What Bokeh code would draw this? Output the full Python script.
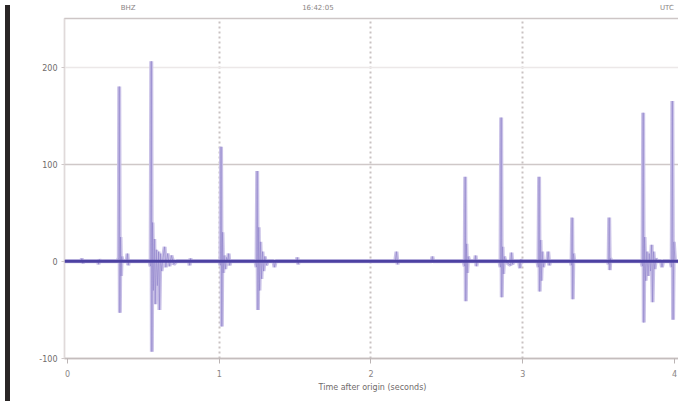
from bokeh.plotting import figure
from bokeh.models import Range1d, LinearAxis, FixedTicker, Span, Grid, Div, ColumnDataSource
from bokeh.layouts import row
from bokeh.embed import file_html
from bokeh.resources import INLINE

# ---- data ----
wave_t = [
    -0.02, 0.09, 0.095, 0.10, 0.105, 0.20, 0.205, 0.21, 0.215,
    0.330, 0.338, 0.341, 0.345, 0.349, 0.353, 0.357, 0.362,
    0.390, 0.395, 0.400, 0.405,
    0.540, 0.548, 0.552, 0.556, 0.560, 0.566, 0.572, 0.578, 0.585, 0.592, 0.600,
    0.606, 0.612, 0.620, 0.630, 0.640, 0.648, 0.660, 0.672, 0.685, 0.700, 0.720,
    0.800, 0.805, 0.810, 0.815,
    1.000, 1.008, 1.012, 1.017, 1.021, 1.026, 1.032, 1.040, 1.048, 1.056, 1.062, 1.068, 1.075,
    1.238, 1.246, 1.250, 1.255, 1.260, 1.265, 1.271, 1.278, 1.285, 1.292, 1.300, 1.310, 1.320,
    1.358, 1.364, 1.372,
    1.510, 1.515, 1.520, 1.525, 2.160, 2.168, 2.175, 2.180, 2.400, 2.405, 2.410,
    2.610, 2.618, 2.621, 2.625, 2.629, 2.634, 2.640, 2.648, 2.685, 2.690, 2.695, 2.700,
    2.846, 2.854, 2.858, 2.862, 2.867, 2.872, 2.878, 2.886, 2.920, 2.926, 2.932, 2.940,
    2.976, 2.982, 2.988, 2.995,
    3.096, 3.104, 3.108, 3.112, 3.117, 3.122, 3.128, 3.135, 3.142, 3.162, 3.168, 3.175, 3.182,
    3.316, 3.322, 3.326, 3.330, 3.334, 3.340,
    3.560, 3.566, 3.570, 3.574, 3.578, 3.584,
    3.782, 3.790, 3.794, 3.798, 3.803, 3.810, 3.818, 3.826, 3.834, 3.842, 3.850, 3.856,
    3.862, 3.870, 3.878, 3.885, 3.912, 3.918, 3.925,
    3.975, 3.982, 3.986, 3.991, 3.996, 4.004, 4.040,
]
wave_amp = [
    0, 0, 3, -2, 0, 0, -3, 2, 0,
    0, 4, 180, -53, 25, -15, 5, 0,
    0, 8, -4, 0,
    0, -5, 206, -93, 40, -30, 23, -44, 12, -25, 10,
    -50, 8, -10, 4, 15, -6, 8, -5, 6, -3, 0,
    0, -4, 3, 0,
    0, -4, 118, -67, 30, -12, 6, -8, 4, 0, 8, -4, 0,
    0, -6, 93, -50, 35, -30, 20, -18, 10, -10, 5, -4, 0,
    0, -6, 0,
    0, 4, -3, 0, 0, 10, -3, 0, 0, 5, 0,
    0, -5, 87, -41, 18, -12, 5, 0, 0, 6, -5, 0,
    0, -6, 148, -37, 15, -13, 5, 0, -4, 9, -3, 0,
    0, -7, 2, 0,
    0, -6, 87, -31, 22, -20, 10, -6, 0, 0, 10, -4, 0,
    0, -4, 45, -39, 8, 0,
    0, -3, 45, -9, 3, 0,
    0, -5, 153, -63, 25, -20, 10, -15, 8, -10, 17, -42,
    10, -8, 3, 0, 0, -6, 0,
    0, -6, 165, -60, 20, 0, 0,
]

x_ticks = [0, 1, 2, 3, 4]
x_tick_labels = ["0", "1", "2", "3", "4"]
y_ticks = [-100, 0, 100, 200]
y_tick_labels = ["-100", "0", "100", "200"]
top_ticks = [0.4, 1.65, 3.95]
top_tick_labels = ["BHZ", "16:42:05", "UTC"]
x_title = "Time after origin (seconds)"

FONT = "DejaVu Sans"
GRAY = "#8a8484"

src = ColumnDataSource(data=dict(t=wave_t, amp=wave_amp))

p = figure(width=665, height=396, output_backend="svg", toolbar_location=None,
           x_range=Range1d(-0.0198, 4.04), y_range=Range1d(-100, 250),
           min_border_left=49, min_border_right=0, min_border_top=8,
           min_border_bottom=38, background_fill_color="white",
           border_fill_color="white")
p.outline_line_color = "#cdc6c6"
p.outline_line_width = 1.5

# grids
p.xgrid.ticker = FixedTicker(ticks=[1, 2, 3])
p.xgrid.grid_line_color = "#c9c2c2"
p.xgrid.grid_line_width = 2
p.xgrid.grid_line_dash = "2 3"
p.ygrid.ticker = FixedTicker(ticks=[100])
p.ygrid.grid_line_color = "#cfc8c8"
p.ygrid.grid_line_width = 1.5
p.add_layout(Grid(dimension=1, ticker=FixedTicker(ticks=[200]),
                  grid_line_color="#ece8e8", grid_line_width=1.5))

# waveform
p.line("t", "amp", source=src, line_color="#c3bae4", line_width=4, line_alpha=0.9)
p.line("t", "amp", source=src, line_color="#8a7dc9", line_width=1.0, line_alpha=0.55)
p.add_layout(Span(location=0, dimension="width", line_color="#4c41a2", line_width=3))

# axes
xa = p.xaxis[0]
xa.ticker = FixedTicker(ticks=x_ticks)
xa.major_label_overrides = {t: l for t, l in zip(x_ticks, x_tick_labels)}
xa.axis_line_color = "#c4bdbd"
xa.axis_line_width = 1.5
xa.major_tick_line_color = "#bbb4b4"
xa.major_tick_out = 5
xa.major_tick_in = 0
xa.minor_tick_line_color = None
xa.major_label_text_font = FONT
xa.major_label_text_font_size = "8px"
xa.major_label_text_color = GRAY
xa.major_label_standoff = 6
xa.axis_label = x_title
xa.axis_label_text_font = FONT
xa.axis_label_text_font_size = "8px"
xa.axis_label_text_font_style = "normal"
xa.axis_label_text_color = "#6f6a6a"
xa.axis_label_standoff = 3

ya = p.yaxis[0]
ya.ticker = FixedTicker(ticks=y_ticks)
ya.major_label_overrides = {t: l for t, l in zip(y_ticks, y_tick_labels)}
ya.axis_line_color = "#e0dada"
ya.major_tick_line_color = "#cfc8c8"
ya.major_tick_out = 3
ya.major_tick_in = 0
ya.minor_tick_line_color = None
ya.major_label_text_font = FONT
ya.major_label_text_font_size = "8px"
ya.major_label_text_color = "#6f6a6a"
ya.major_label_standoff = 4

top = LinearAxis(ticker=FixedTicker(ticks=top_ticks),
                 major_label_overrides={t: l for t, l in zip(top_ticks, top_tick_labels)})
top.axis_line_color = None
top.major_tick_line_color = None
top.minor_tick_line_color = None
top.major_label_text_font = FONT
top.major_label_text_font_size = "7px"
top.major_label_text_color = GRAY
top.major_label_standoff = 1
p.add_layout(top, "above")

bar = Div(width=5, height=396, styles={"background-color": "#2a2626"})
layout = row(bar, p)

open("out.html", "w").write(file_html(layout, INLINE))
